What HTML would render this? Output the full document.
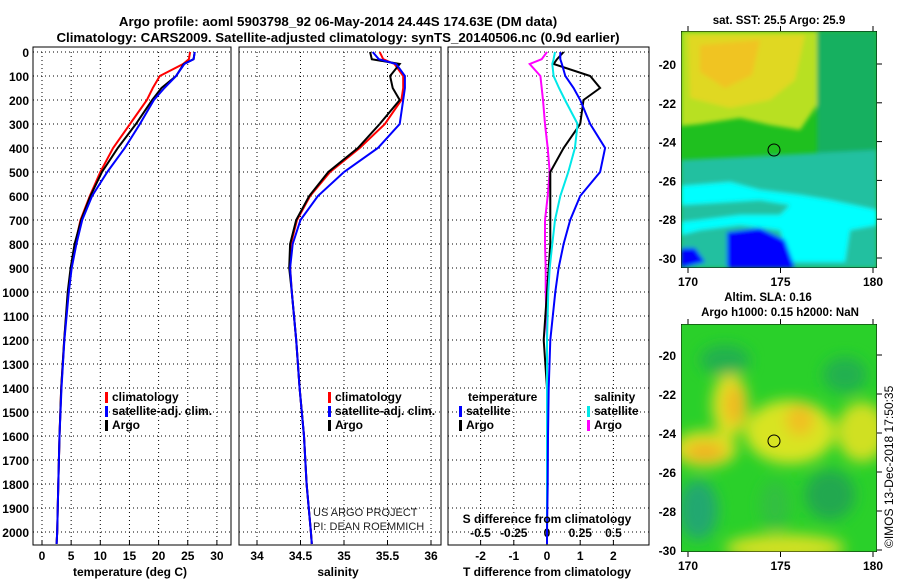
<!DOCTYPE html>
<html><head><meta charset="utf-8">
<style>
html,body{margin:0;padding:0;background:#fff;}
svg{display:block;font-family:"Liberation Sans",sans-serif;}
.b{font-weight:bold;}
</style></head>
<body>
<svg id="chart" width="900" height="580" viewBox="0 0 900 580" xmlns="http://www.w3.org/2000/svg">
<defs>
<filter id="blur1" x="-30%" y="-30%" width="160%" height="160%"><feGaussianBlur stdDeviation="7"/></filter>
<filter id="blur2" x="-10%" y="-10%" width="120%" height="120%"><feGaussianBlur stdDeviation="2"/></filter>
<clipPath id="clipTop"><rect x="681" y="31" width="196" height="237"/></clipPath>
<clipPath id="clipBot"><rect x="681" y="324" width="196" height="228"/></clipPath>
</defs>
<text class="b" x="338" y="26" font-size="13.3" text-anchor="middle">Argo profile: aoml 5903798_92 06-May-2014 24.44S 174.63E (DM data)</text>
<text class="b" x="338" y="42" font-size="13.3" text-anchor="middle">Climatology: CARS2009. Satellite-adjusted climatology: synTS_20140506.nc (0.9d earlier)</text>
<g id="panels"></g>
<g id="maps">
 <text class="b" x="779" y="24" font-size="11.5" text-anchor="middle">sat. SST: 25.5 Argo: 25.9</text>
 <g clip-path="url(#clipTop)">
  <rect x="681" y="31" width="196" height="237" fill="#1fc01f"/>
  <g filter="url(#blur2)">
  <polygon points="681,31 817,31 817,105 800,130 770,125 740,118 700,124 681,126" fill="#b8e020"/>
  <polygon points="688,35 805,35 795,80 770,100 730,108 690,98" fill="#e0d820"/>
  <polygon points="700,45 760,40 752,75 725,88 700,72" fill="#f0c424"/>
  <polygon points="817,31 877,31 877,268 817,268" fill="#18b060"/>
  <polygon points="681,160 877,150 877,268 681,268" fill="#20c0a0"/>
  <polygon points="681,186 730,182 760,190 800,195 830,200 877,210 877,225 850,230 845,262 790,262 780,230 740,225 700,230 681,235" fill="#00ffff"/>
  <polygon points="681,205 760,200 790,205 780,215 740,215 700,220 681,222" fill="#20c0a0"/>
  <polygon points="727,232 760,228 785,240 795,268 727,268" fill="#0000ff"/>
  <polygon points="681,248 695,248 705,262 681,268" fill="#0000ff"/>
  </g>
  <circle cx="774" cy="150" r="6" fill="none" stroke="#000"/>
  <rect x="681" y="31" width="196" height="237" fill="none" stroke="#000"/>
 </g>
 <text class="b" x="768" y="301" font-size="11.5" text-anchor="middle">Altim. SLA: 0.16</text>
 <text class="b" x="780" y="316" font-size="11.5" text-anchor="middle">Argo h1000: 0.15 h2000: NaN</text>
 <g clip-path="url(#clipBot)">
  <rect x="681" y="324" width="196" height="228" fill="#2ad02a"/>
  <g filter="url(#blur1)">
   <ellipse cx="730" cy="405" rx="18" ry="32" fill="#e0e020"/>
   <ellipse cx="705" cy="449" rx="32" ry="18" fill="#e0e020"/>
   <ellipse cx="790" cy="432" rx="45" ry="32" fill="#d8e420"/>
   <ellipse cx="862" cy="432" rx="25" ry="30" fill="#d0e020"/>
   <ellipse cx="735" cy="405" rx="10" ry="20" fill="#f0b820"/>
   <ellipse cx="705" cy="452" rx="20" ry="9" fill="#f0b020"/>
   <ellipse cx="800" cy="420" rx="14" ry="16" fill="#f0c020"/>
   <ellipse cx="785" cy="548" rx="60" ry="14" fill="#d0e020"/>
   <ellipse cx="698" cy="510" rx="20" ry="30" fill="#20a870"/>
   <ellipse cx="830" cy="495" rx="25" ry="25" fill="#20a850"/>
   <ellipse cx="725" cy="360" rx="25" ry="15" fill="#20b050"/>
   <ellipse cx="845" cy="375" rx="22" ry="18" fill="#20b050"/>
   <ellipse cx="775" cy="505" rx="15" ry="25" fill="#30c040"/>
  </g>
  <circle cx="774" cy="441" r="6" fill="none" stroke="#000"/>
  <rect x="681" y="324" width="196" height="228" fill="none" stroke="#000"/>
 </g>
 <text x="893" y="548" font-size="12" transform="rotate(-90 893 548)">©IMOS 13-Dec-2018 17:50:35</text>
</g>
</svg>
<script>
// depth levels (dbar)
const depths = [0,30,50,100,150,200,300,400,500,600,700,800,900,1000,1200,1400,1600,1800,2000,2050];
// temperature profiles
const tempClim = [25.4,25.2,24.2,20.2,19.0,18.0,15.1,12.2,10.0,8.2,6.6,5.7,5.0,4.5,3.8,3.3,3.0,2.8,2.6,2.5];
const tempSat  = [26.2,26.0,24.4,23.0,21.0,19.2,16.8,14.2,11.2,8.6,6.9,5.9,5.1,4.6,3.85,3.35,3.0,2.8,2.6,2.5];
const tempArgo = [26.2,26.0,24.3,23.0,20.5,18.9,16.1,13.0,10.3,8.3,6.7,5.6,4.9,4.4,3.8,3.3,3.0,2.8,2.6,2.5];
// salinity profiles
const salClim = [35.41,35.45,35.58,35.68,35.68,35.66,35.47,35.18,34.84,34.61,34.46,34.39,34.38,34.40,34.45,34.49,34.54,34.57,34.62,34.63];
const salSat  = [35.33,35.40,35.60,35.70,35.70,35.68,35.64,35.39,35.00,34.70,34.50,34.41,34.38,34.40,34.45,34.49,34.54,34.57,34.62,34.63];
const salArgo = [35.30,35.32,35.64,35.53,35.56,35.64,35.41,35.16,34.82,34.60,34.45,34.38,34.37,34.40,34.45,34.49,34.54,34.57,34.62,34.63];
// differences from climatology
const dTSat  = [0.4,0.4,0.45,0.55,0.8,1.0,1.3,1.75,1.6,1.0,0.7,0.5,0.35,0.25,0.1,0.05,0.03,0.02,0.0,0.0];
const dTArgo = [0.5,0.3,0.2,1.3,1.6,1.1,1.0,0.5,0.1,0.1,0.1,0.1,0.05,0.0,-0.1,0.0,0.0,0.0,0.0,0.0];
const dSSat  = [0.06,0.05,0.04,0.05,0.09,0.135,0.23,0.21,0.16,0.10,0.06,0.04,0.02,0.01,0.0,0.0,0.0,0.0,0.0,0.0];
const dSArgo = [0.0,-0.04,-0.13,-0.05,-0.04,-0.03,-0.015,0.005,0.02,0.005,-0.015,-0.015,-0.01,-0.01,0.0,0.0,0.0,0.0,0.0,0.0];
// tick labels
const depthTicks = [0,100,200,300,400,500,600,700,800,900,1000,1100,1200,1300,1400,1500,1600,1700,1800,1900,2000];
const tempTicks = [0,5,10,15,20,25,30];
const salTicks = [34,34.5,35,35.5,36];
const dTTicks = [-2,-1,0,1,2];
const dSTicks = [-0.5,-0.25,0,0.25,0.5];
const dSTickLabels = ["-0.5","-0.25","0","0.25","0.5"];
const latTicks = [-20,-22,-24,-26,-28,-30];
const lonTicks = [170,175,180];

const NS="http://www.w3.org/2000/svg";
const g=document.getElementById('panels');
function mk(tag,attrs,parent){const e=document.createElementNS(NS,tag);for(const k in attrs)e.setAttribute(k,attrs[k]);(parent||g).appendChild(e);return e;}
function txt(s,attrs,parent){const e=mk('text',attrs,parent);e.textContent=s;return e;}
const yD=d=>52+d*0.24;
const PT=540;
function panel(name,x0,x1,xf,ticks,labels){
  const p=mk('g',{});
  
  
  depthTicks.forEach(d=>{const l=mk('line',{x1:x0,x2:x1,y1:yD(d),y2:yD(d),stroke:'#000','stroke-dasharray':'1,3'},p);
    
    });
  ticks.forEach((t,i)=>{const X=xf(t);const l=mk('line',{x1:X,x2:X,y1:52,y2:PT+5,stroke:'#000','stroke-dasharray':'1,3'},p);
    
    
    mk('line',{x1:X,x2:X,y1:PT+5,y2:PT,stroke:'#000'},p);
    if(labels){const tl=txt(labels[i],{x:X,y:560,'font-size':12,'text-anchor':'middle',class:'b'},p);
    
    }});
  const r=mk('rect',{x:x0,y:47,width:x1-x0,height:PT+5-47,fill:'none',stroke:'#000'},p);
  
  
  return p;
}
function line(p,vals,xf,color,name,w){
  const pts=vals.map((v,i)=>xf(v).toFixed(1)+','+yD(depths[i]).toFixed(1)).join(' ');
  const l=mk('polyline',{points:pts,fill:'none',stroke:color,'stroke-width':w||2},p);
  
  
}
function legend(p,x,y,color,label){
  mk('rect',{x:x,y:y-9,width:3,height:11,fill:color},p);
  const t=txt(label,{x:x+7,y:y,'font-size':12,class:'b'},p);
  
  
}
const ya=mk('g',{});


depthTicks.forEach(d=>{const t=txt(String(d),{x:29,y:yD(d)+5,'font-size':12,'text-anchor':'end',class:'b'},ya);
  
  });

const xT=v=>42+v*5.83;
const p1=panel('temperature-panel',33,231,xT,tempTicks,tempTicks.map(String));
line(p1,tempClim,xT,'#ff0000','temp-climatology-line');
line(p1,tempArgo,xT,'#000','temp-argo-line');
line(p1,tempSat,xT,'#0000ff','temp-satellite-line');
legend(p1,105,401,'#ff0000','climatology');legend(p1,105,415,'#0000ff','satellite-adj. clim.');legend(p1,105,429,'#000','Argo');
const xt1=txt('temperature (deg C)',{x:130,y:576,'font-size':12,'text-anchor':'middle',class:'b'},p1);



const xS=v=>257+(v-34)*87;
const p2=panel('salinity-panel',239,441,xS,salTicks,salTicks.map(String));
line(p2,salClim,xS,'#ff0000','sal-climatology-line');
line(p2,salArgo,xS,'#000','sal-argo-line');
line(p2,salSat,xS,'#0000ff','sal-satellite-line');
legend(p2,328,401,'#ff0000','climatology');legend(p2,328,415,'#0000ff','satellite-adj. clim.');legend(p2,328,429,'#000','Argo');
const xt2=txt('salinity',{x:338,y:576,'font-size':12,'text-anchor':'middle',class:'b'},p2);


const c1=txt('US ARGO PROJECT',{x:313,y:516,'font-size':11,fill:'#222'},p2);


const c2=txt('PI: DEAN ROEMMICH',{x:313,y:530,'font-size':11,fill:'#222'},p2);



const xdT=v=>547+v*33.2;
const xdS=v=>547+v*133;
const p3=panel('difference-panel',448,649,xdT,dTTicks,dTTicks.map(String));
dSTicks.forEach((t,i)=>{const X=xdS(t);const tl=txt(dSTickLabels[i],{x:X,y:537,'font-size':12,'text-anchor':'middle',class:'b'},p3);
  
  });
line(p3,dSArgo,xdS,'#ff00ff','sdiff-argo-line');
line(p3,dTArgo,xdT,'#000','tdiff-argo-line');
line(p3,dSSat,xdS,'#00e8e8','sdiff-satellite-line');
line(p3,dTSat,xdT,'#0000ff','tdiff-satellite-line');
const lt=txt('temperature',{x:468,y:401,'font-size':12,class:'b'},p3);


const ls=txt('salinity',{x:594,y:401,'font-size':12,class:'b'},p3);


legend(p3,459,415,'#0000ff','satellite');legend(p3,459,429,'#000','Argo');
legend(p3,587,415,'#00e8e8','satellite');legend(p3,587,429,'#ff00ff','Argo');
const st=txt('S difference from climatology',{x:547,y:523,'font-size':12,'text-anchor':'middle',class:'b'},p3);


const tt=txt('T difference from climatology',{x:547,y:576,'font-size':12,'text-anchor':'middle',class:'b'},p3);



const m=document.getElementById('maps');
const xLon=v=>688+(v-170)*18.5;
function mapAxes(y0,y1,latY){
  latTicks.forEach(l=>{const Y=latY(l);
    mk('line',{x1:877,x2:882,y1:Y,y2:Y,stroke:'#000'},m);
    const t=txt(String(l),{x:676,y:Y+5,'font-size':12,'text-anchor':'end',class:'b'},m);
    
    });
  lonTicks.forEach(l=>{const X=xLon(l);
    mk('line',{x1:X,x2:X,y1:y1,y2:y1+5,stroke:'#000'},m);
    mk('line',{x1:X,x2:X,y1:y0,y2:y0-5,stroke:'#000'},m);
    const t=txt(String(l),{x:X,y:y1+18,'font-size':12,'text-anchor':'middle',class:'b'},m);
    
    });
}
mapAxes(31,268,l=>64+(-20-l)*19.4);
mapAxes(324,552,l=>355+(-20-l)*19.5);
</script>
</body></html>
